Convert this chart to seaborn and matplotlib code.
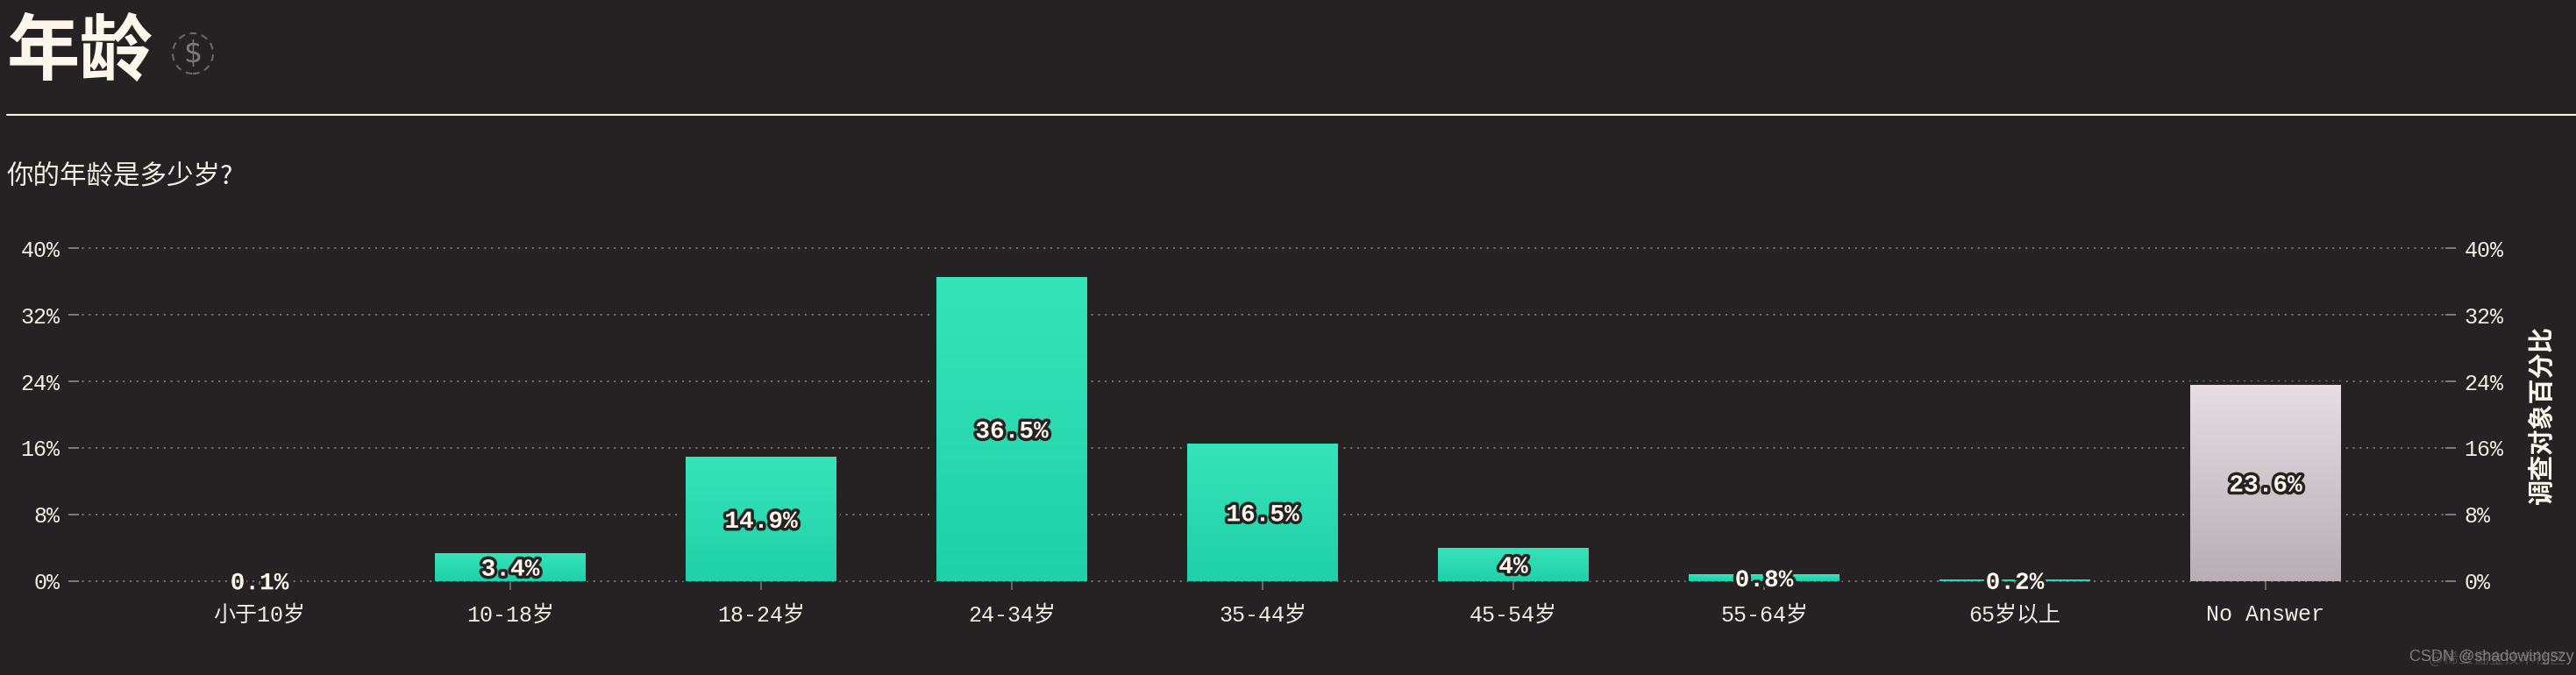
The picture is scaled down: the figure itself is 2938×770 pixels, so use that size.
import numpy as np
import pandas as pd
import matplotlib
matplotlib.use("Agg")
import matplotlib.pyplot as plt
import matplotlib.patheffects as pe
from matplotlib.colors import LinearSegmentedColormap
from matplotlib.lines import Line2D
from matplotlib.patches import Circle
from matplotlib.transforms import IdentityTransform
import seaborn as sns

# ================= DATA =================
age_groups = ["小于10岁", "10-18岁", "18-24岁", "24-34岁", "35-44岁",
              "45-54岁", "55-64岁", "65岁以上", "No Answer"]
percents = [0.1, 3.4, 14.9, 36.5, 16.5, 4, 0.8, 0.2, 23.6]
y_ticks = [0, 8, 16, 24, 32, 40]

title = "年龄"
subtitle = "你的年龄是多少岁?"
right_label = "调查对象百分比"
watermark = "CSDN @shadowingszy"
ghost_mark = "@稀土掘金技术社区"

# ================= STYLE =================
W, H = 2938, 770
BG = "#262223"
CREAM = "#fdf6ea"
TEXT = "#f1ece4"
GRID = "#7d7a7a"
MONO = ["Liberation Mono", "Noto Sans CJK SC"]
CJK = ["Noto Sans CJK SC", "DejaVu Sans"]

sns.set_theme(style="dark", rc={"figure.facecolor": BG, "axes.facecolor": BG,
                                "savefig.facecolor": BG})
plt.rcParams["font.family"] = MONO

fig = plt.figure(figsize=(W / 100, H / 100), dpi=100)
ax = fig.add_axes([78 / W, 1 - 663 / H, (2801 - 78) / W, (663 - 283) / H])

df = pd.DataFrame({"age": age_groups, "pct": percents})

# ================= BARS =================
sns.barplot(data=df, x="age", y="pct", width=0.6, color="#2adbb0", saturation=1,
            edgecolor=BG, linewidth=5.5, ax=ax, zorder=2)

green = LinearSegmentedColormap.from_list("green", ["#20d0a8", "#36e4b9"])
grey = LinearSegmentedColormap.from_list("grey", ["#b7afb3", "#e7dee3"])
ramp = np.linspace(1, 0, 256).reshape(-1, 1)

for bar, name in zip(ax.patches, age_groups):
    x0, w, h = bar.get_x(), bar.get_width(), bar.get_height()
    # the tiniest bars have no dark halo round them
    if h < 0.5:
        bar.set_linewidth(0)
    if h < 0.15:
        bar.set_visible(False)
        continue
    img = ax.imshow(ramp, cmap=grey if name == "No Answer" else green, vmin=0, vmax=1,
                    extent=(x0, x0 + w, 0, h), aspect="auto", zorder=2.5)
    img.set_clip_path(bar)

labels = [f"{p:g}%" for p in percents]
texts = ax.bar_label(ax.containers[0], labels=labels, label_type="center", fontsize=20,
                     fontweight="bold", color=CREAM, zorder=5,
                     path_effects=[pe.withStroke(linewidth=5, foreground=BG)])
for t in texts:
    t.xyann = (0, -2)

# ================= AXES =================
ax.set_xlim(-0.762, 8.759)
ax.set_ylim(0, 40)
ax.set_yticks(y_ticks)
ax.set_yticklabels([f"{t}%" for t in y_ticks])
ax.set_xlabel("")
ax.set_ylabel(right_label, fontsize=21, fontweight="bold", color=CREAM,
              family=CJK, labelpad=20)
ax.yaxis.set_label_position("right")

ax.grid(axis="y", color=GRID, linewidth=1.4, linestyle=(0, (1, 3)), zorder=1)
ax.grid(axis="x", visible=False)
ax.set_axisbelow(True)
for line in ax.get_ygridlines():
    line.set_clip_on(False)

ax.tick_params(axis="y", direction="in", length=8.5, width=1.4, color=GRID, left=True,
               right=True, labelleft=True, labelright=True, labelsize=18, labelcolor=TEXT,
               pad=7)
ax.tick_params(axis="x", direction="out", length=7, width=1.1, color=GRID, bottom=True,
               labelsize=18, labelcolor=TEXT, pad=12)
sns.despine(ax=ax, left=True, bottom=True)

# ================= HEADER =================
def put(x, y, s, **kw):
    return fig.text(x / W, 1 - y / H, s, **kw)

put(8, 60, title, fontsize=60, fontweight="bold", color=CREAM, family=CJK,
    ha="left", va="center")
put(8, 201, subtitle, fontsize=22, color=TEXT, family=CJK, fontweight="light",
    ha="left", va="center")
fig.add_artist(Line2D([8 / W, 1], [1 - 131 / H, 1 - 131 / H], color="#fbf1dc", linewidth=1.5))

fig.add_artist(Circle((220, H - 61), 23, transform=IdentityTransform(), fill=False,
                      edgecolor="#6f6c6b", linewidth=1.4, linestyle=(0, (4, 3))))
put(220, 61, "$", fontsize=24, color="#7c7978", family="DejaVu Sans", ha="center",
    va="center")

# ================= WATERMARK =================
put(2770, 752, ghost_mark, fontsize=12.5, color="#4f4b4c", family=CJK, ha="left", va="center")
put(2748, 750, watermark, fontsize=13, color="#807d7d", family="Liberation Sans",
    ha="left", va="center")

fig.savefig("out.png", dpi=100)
